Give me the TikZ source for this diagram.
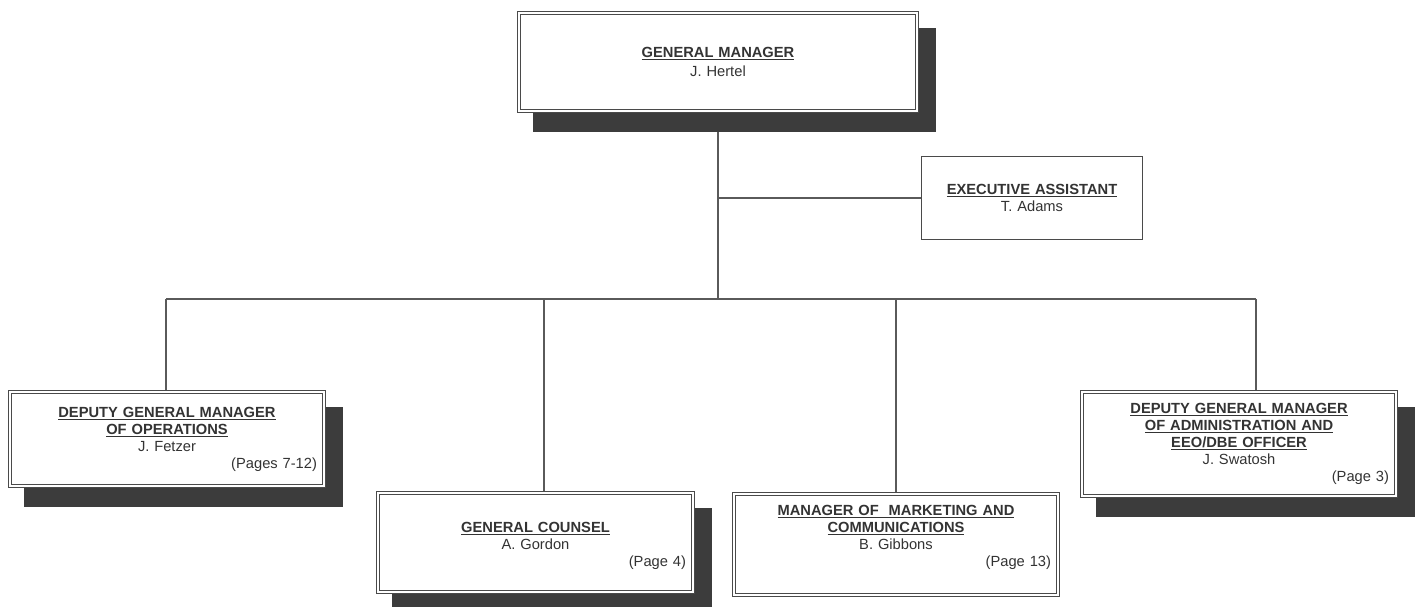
\documentclass[tikz,border=0pt]{standalone}
\usepackage{fontspec}
\setmainfont{Liberation Sans}
\usetikzlibrary{backgrounds}
\definecolor{boxgray}{HTML}{4A4A4A}
\definecolor{shadowgray}{HTML}{3C3C3C}
\definecolor{linegray}{HTML}{5A5A5A}
\definecolor{textgray}{HTML}{333333}
\newcommand\ulbox[1]{\setbox0=\hbox{#1}\rlap{\rule[-2.4pt]{\wd0}{0.9pt}}\box0}
\tikzset{
  orgbox/.style={draw=boxgray, double=white, line width=0.9pt, double distance=2pt,
    fill=white, inner sep=0pt, outer sep=0pt, align=center, text=textgray,
    font=\fontsize{14.7}{17}\selectfont},
  plainbox/.style={draw=boxgray, line width=1.2pt, fill=white, inner sep=0pt,
    outer sep=0pt, align=center, text=textgray, font=\fontsize{14.7}{17}\selectfont},
  conn/.style={draw=linegray, line width=1.1pt},
  shadowfill/.style={fill=shadowgray, draw=none}
}
\begin{document}
\begin{tikzpicture}[x=1pt,y=-1pt]
\useasboundingbox (0,0) rectangle (1419,606);

\node[orgbox, minimum width=398pt, minimum height=98pt, text width=380pt] (gm) at (718,62)
  {\textbf{\ulbox{GENERAL MANAGER}}\\[2pt]J. Hertel};

\node[plainbox, minimum width=221pt, minimum height=83pt, text width=205pt] (ea) at (1032,198)
  {\textbf{\ulbox{EXECUTIVE ASSISTANT}}\\T. Adams};

\node[orgbox, minimum width=314pt, minimum height=94pt, text width=300pt] (ops) at (167,439)
  {\textbf{\ulbox{DEPUTY GENERAL MANAGER}}\\\textbf{\ulbox{OF OPERATIONS}}\\J. Fetzer\\\hfill(Pages 7-12)};

\node[orgbox, minimum width=315pt, minimum height=99pt, text width=301pt] (gc) at (535.5,542.5)
  {\mbox{}\\\textbf{\ulbox{GENERAL COUNSEL}}\\A. Gordon\\\hfill(Page 4)};

\node[orgbox, minimum width=324pt, minimum height=101pt, text width=310pt] (mmc) at (896,544.5)
  {\textbf{\ulbox{MANAGER OF\ \ MARKETING AND}}\\\textbf{\ulbox{COMMUNICATIONS}}\\B. Gibbons\\\hfill(Page 13)\\\mbox{}};

\node[orgbox, minimum width=314pt, minimum height=104pt, text width=300pt] (adm) at (1239,444)
  {\textbf{\ulbox{DEPUTY GENERAL MANAGER}}\\\textbf{\ulbox{OF ADMINISTRATION AND}}\\\textbf{\ulbox{EEO/DBE OFFICER}}\\J. Swatosh\\\hfill(Page 3)};

\coordinate (bus) at (718,299);
\coordinate (d1) at (166,299);
\coordinate (d2) at (544,299);
\coordinate (d3) at (896,299);
\coordinate (d4) at (1256,299);

\begin{scope}[on background layer]
  \draw[conn] (gm.south) -- (bus);
  \draw[conn] (gm.south |- ea.west) -- (ea.west);
  \draw[conn] (d1) -- (d4);
  \draw[conn] (d1) -- (d1 |- ops.north);
  \draw[conn] (d2) -- (d2 |- gc.north);
  \draw[conn] (d3) -- (d3 |- mmc.north);
  \draw[conn] (d4) -- (d4 |- adm.north);
  \foreach \b in {gm,ops,gc,adm}{
    \fill[shadowgray] ([shift={(14,15)}]\b.north west) rectangle ([shift={(19,21)}]\b.south east);
  }
\end{scope}
\end{tikzpicture}
\end{document}
